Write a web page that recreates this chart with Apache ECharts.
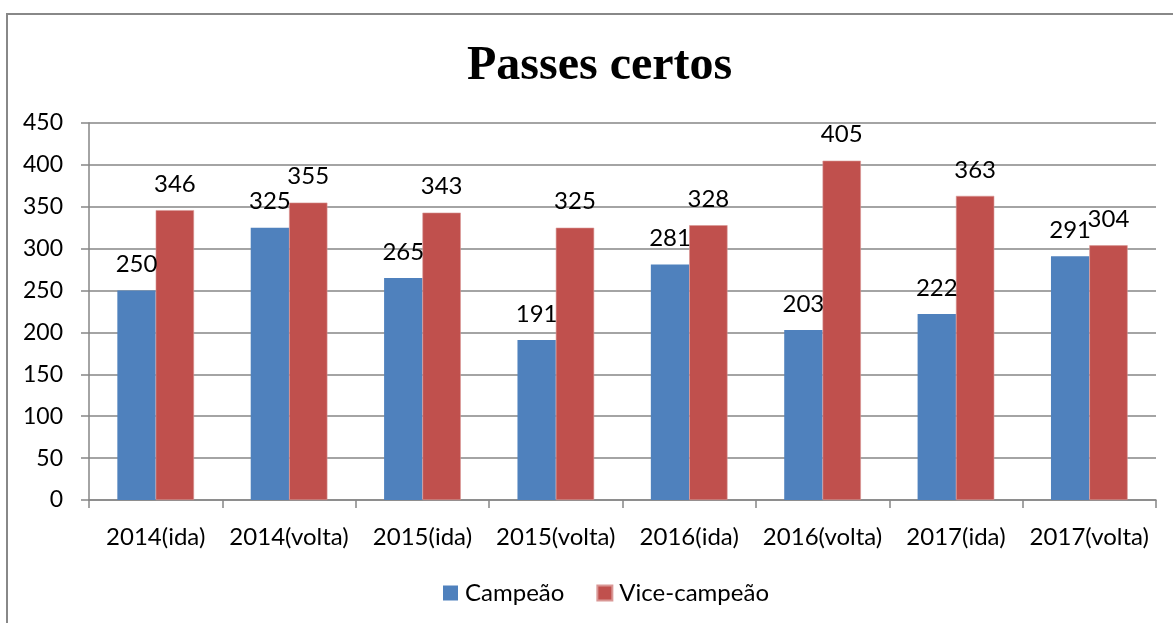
<!DOCTYPE html>
<html>
<head>
<meta charset="utf-8">
<script src="https://cdn.jsdelivr.net/npm/echarts@6/dist/echarts.min.js"></script>
<style>
  html, body { margin: 0; padding: 0; background: #fff; overflow: hidden; }
  #frame { position: absolute; left: 6px; top: 13px; width: 1300px; height: 800px; border: 2px solid #888; box-sizing: border-box; }
  #chart { position: absolute; left: 0; top: 0; width: 1173px; height: 623px; }
</style>
</head>
<body>
<div id="frame"></div>
<div id="chart"></div>
<script>
// dados do gráfico
const categorias = ['2014(ida)', '2014(volta)', '2015(ida)', '2015(volta)', '2016(ida)', '2016(volta)', '2017(ida)', '2017(volta)']
const campeao = [250, 325, 265, 191, 281, 203, 222, 291]
const viceCampeao = [346, 355, 343, 325, 328, 405, 363, 304]

const fonte = 'Lato'

const chart = echarts.init(document.getElementById('chart'))

const rotulo = {
  show: true,
  position: 'top',
  distance: 14,
  color: '#000',
  fontFamily: fonte,
  fontSize: 24
}

chart.setOption({
  animation: false,
  title: {
    text: 'Passes certos',
    left: 462,
    top: 38,
    textStyle: { fontFamily: 'Liberation Serif', fontWeight: 'bold', fontSize: 48, color: '#000' }
  },
  legend: {
    bottom: 13,
    left: 438,
    itemWidth: 15,
    itemHeight: 15,
    itemGap: 32,
    icon: 'rect',
    textStyle: { fontFamily: fonte, fontSize: 24, color: '#000', padding: [0, 0, 0, 2] },
    data: ['Campeão', 'Vice-campeão']
  },
  grid: { left: 89, right: 17, top: 123, bottom: 123 },
  xAxis: {
    type: 'category',
    data: categorias,
    axisLine: { lineStyle: { color: '#868686', width: 1.5 } },
    axisTick: { show: true, length: 8, lineStyle: { color: '#868686', width: 1.5 } },
    axisLabel: { color: '#000', fontFamily: fonte, fontSize: 24, margin: 25, interval: 0 }
  },
  yAxis: {
    type: 'value',
    min: 0,
    max: 450,
    interval: 50,
    axisLine: { show: true, lineStyle: { color: '#868686', width: 1.5 } },
    axisTick: { show: true, length: 8, lineStyle: { color: '#868686', width: 1.5 } },
    splitLine: { lineStyle: { color: '#868686', width: 1.5 } },
    axisLabel: { color: '#000', fontFamily: fonte, fontSize: 23, margin: 26 }
  },
  series: [
    {
      name: 'Campeão',
      type: 'bar',
      data: campeao,
      barGap: '0%',
      barCategoryGap: '42.5%',
      itemStyle: { color: '#4F81BD' },
      label: rotulo
    },
    {
      name: 'Vice-campeão',
      type: 'bar',
      data: viceCampeao,
      barGap: '0%',
      barCategoryGap: '42.5%',
      itemStyle: { color: '#C0504D', borderColor: '#D99795', borderWidth: 0.6 },
      label: rotulo
    }
  ]
})

window.addEventListener('resize', () => chart.resize())
</script>
</body>
</html>
